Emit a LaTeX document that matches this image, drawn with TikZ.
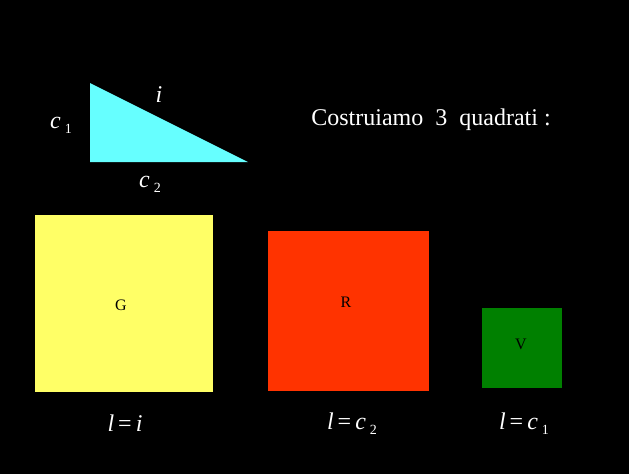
\documentclass[tikz,border=0pt]{standalone}
\usepackage{fontspec}
\setmainfont{Liberation Serif}
\newcommand{\mysub}[1]{\,\raisebox{-0.45ex}{\fontsize{14}{14}\selectfont #1}}
\begin{document}
\begin{tikzpicture}[x=1pt,y=-1pt,
  lbl/.style={text=white,inner sep=0pt,font=\fontsize{24}{26}\selectfont},
  sqlbl/.style={text=black,inner sep=0pt,font=\fontsize{16}{18}\selectfont}]
\fill[black] (0,0) rectangle (629,474);
\useasboundingbox (0,0) rectangle (629,474);
% triangle
\coordinate (ta) at (90,83);
\coordinate (tb) at (90,162);
\coordinate (tc) at (248,162);
\fill[fill={rgb,255:red,102;green,255;blue,255}] (ta) -- (tb) -- (tc) -- cycle;
\node[lbl] (c1) at (61,125) {\textit{c}\mysub{1}};
\node[lbl] (hyp) at (159,95) {\textit{i}};
\node[lbl] (c2) at (150,184) {\textit{c}\mysub{2}};
\node[lbl] (title) at (431,120) {Costruiamo\ \ 3\ \ quadrati :};
% squares
\fill[fill={rgb,255:red,255;green,255;blue,102}] (35,215) rectangle (213,392);
\fill[fill={rgb,255:red,255;green,51;blue,0}] (268,231) rectangle (429,391);
\fill[fill={rgb,255:red,0;green,128;blue,0}] (482,308) rectangle (562,388);
\node[sqlbl] (G) at (121,305) {G};
\node[sqlbl] (R) at (346,302) {R};
\node[sqlbl] (V) at (521,344) {V};
% side labels
\node[lbl] (li) at (125,423) {\textit{l}\,=\,\textit{i}};
\node[lbl] (lc2) at (352,424) {\textit{l}\,=\,\textit{c}\mysub{2}};
\node[lbl] (lc1) at (524,424) {\textit{l}\,=\,\textit{c}\mysub{1}};
\end{tikzpicture}
\end{document}
